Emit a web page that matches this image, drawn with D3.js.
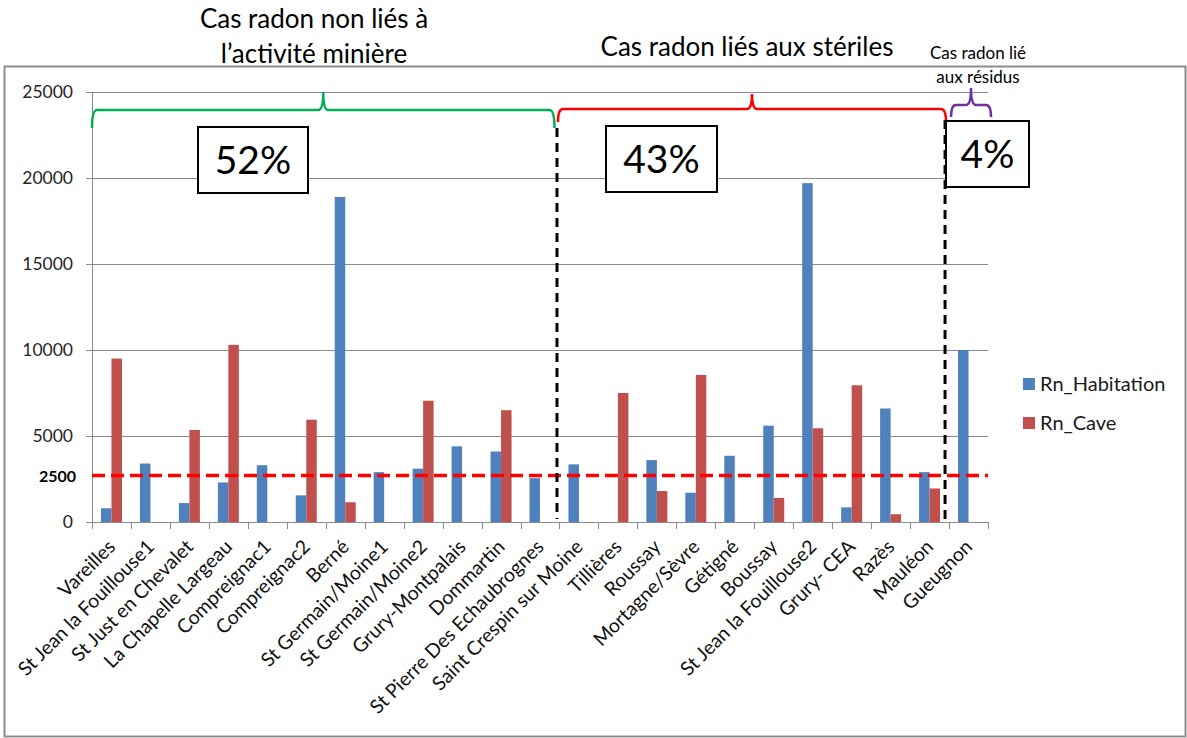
<!DOCTYPE html>
<html>
<head>
<meta charset="utf-8">
<script src="https://cdn.jsdelivr.net/npm/d3@7"></script>
<style>
  body { margin: 0; background: #fff; }
  svg { display: block; font-family: Lato, 'Open Sans', sans-serif; }
</style>
</head>
<body>
<svg id="chart" width="1187" height="738"></svg>
<script>
// radon measurements per site (Bq/m3)
const sites = [
  'Vareilles', 'St Jean la Fouillouse1', 'St Just en Chevalet', 'La Chapelle Largeau',
  'Compreignac1', 'Compreignac2', 'Berné', 'St Germain/Moine1', 'St Germain/Moine2',
  'Grury-Montpalais', 'Dommartin', 'St Pierre Des Echaubrognes', 'Saint Crespin sur Moine',
  'Tillières', 'Roussay', 'Mortagne/Sèvre', 'Gétigné', 'Boussay', 'St Jean la Fouillouse2',
  'Grury- CEA', 'Razès', 'Mauléon', 'Gueugnon'
];
const habitation = [
  800, 3400, 1100, 2300, 3300, 1550, 18900, 2900, 3100, 4400, 4100, 2550, 3350,
  0, 3600, 1700, 3850, 5600, 19700, 850, 6600, 2900, 10000
];
const cave = [
  9500, 0, 5350, 10300, 0, 5950, 1150, 0, 7050, 0, 6500, 0, 0,
  7500, 1800, 8550, 0, 1400, 5450, 7950, 450, 1950, 0
];
const seriesNames = ['Rn_Habitation', 'Rn_Cave'];
const seriesColors = ['#4f81bd', '#c0504d'];
const yTicks = [0, 5000, 10000, 15000, 20000, 25000];
const thresholdValue = 2700;
const thresholdLabel = '2500';

// groups of sites (first index, last index)
const groupTitles = [
  ['Cas radon non liés à', 'l\u2019activité minière'],
  ['Cas radon liés aux stériles'],
  ['Cas radon lié', 'aux résidus']
];
const groupShares = ['52%', '43%', '4%'];
const groupRanges = [[0, 11], [12, 21], [22, 22]];
const groupColors = ['#00b050', '#ff0000', '#7030a0'];

const svg = d3.select('#chart');
const plot = { left: 92, right: 988, top: 92, bottom: 522 };

// frame
svg.append('rect')
  .attr('x', 4.5).attr('y', 66.5)
  .attr('width', 1181).attr('height', 670)
  .attr('fill', 'none')
  .attr('stroke', '#8c8c8c')
  .attr('stroke-width', 2);

const x = d3.scaleBand()
  .domain(d3.range(sites.length))
  .range([plot.left, plot.right]);

const y = d3.scaleLinear()
  .domain([0, 25000])
  .range([plot.bottom, plot.top]);

const barW = 10.5;

// grid
svg.append('g')
  .selectAll('line')
  .data(yTicks)
  .join('line')
  .attr('x1', plot.left - 6)
  .attr('x2', plot.right)
  .attr('y1', (d) => Math.round(y(d)) + 0.5)
  .attr('y2', (d) => Math.round(y(d)) + 0.5)
  .attr('stroke', '#8a8a8a')
  .attr('stroke-width', 1);

// y axis line
svg.append('line')
  .attr('x1', plot.left + 0.5).attr('x2', plot.left + 0.5)
  .attr('y1', plot.top).attr('y2', plot.bottom)
  .attr('stroke', '#8a8a8a');

// y labels
svg.append('g')
  .selectAll('text')
  .data(yTicks)
  .join('text')
  .attr('x', plot.left - 19)
  .attr('y', (d) => y(d))
  .attr('dy', '0.35em')
  .attr('text-anchor', 'end')
  .attr('font-size', 17.5)
  .attr('fill', '#262626')
  .text((d) => d);

svg.append('text')
  .attr('x', plot.left - 16)
  .attr('y', y(thresholdValue) + 1)
  .attr('dy', '0.35em')
  .attr('text-anchor', 'end')
  .attr('font-size', 16)
  .attr('font-weight', 'bold')
  .attr('fill', '#000')
  .text(thresholdLabel);

// x ticks at category boundaries
svg.append('g')
  .selectAll('line')
  .data(d3.range(sites.length + 1))
  .join('line')
  .attr('x1', (i) => Math.round(plot.left + i * x.step()) + 0.5)
  .attr('x2', (i) => Math.round(plot.left + i * x.step()) + 0.5)
  .attr('y1', plot.bottom)
  .attr('y2', plot.bottom + 7)
  .attr('stroke', '#8a8a8a');

// bars
const series = [habitation, cave];
series.forEach((values, s) => {
  svg.append('g')
    .selectAll('rect')
    .data(values.map((v, i) => ({ v, i })).filter((d) => d.v > 0))
    .join('rect')
    .attr('x', (d) => x(d.i) + x.bandwidth() / 2 - barW + s * barW)
    .attr('y', (d) => y(d.v))
    .attr('width', barW)
    .attr('height', (d) => plot.bottom - y(d.v))
    .attr('fill', seriesColors[s]);
});

// x labels
svg.append('g')
  .selectAll('text')
  .data(sites)
  .join('text')
  .attr('text-anchor', 'end')
  .attr('font-size', 19.5)
  .attr('fill', '#111')
  .attr('transform', (d, i) => `translate(${x(i) + x.bandwidth() / 2 + 5},${plot.bottom + 26}) rotate(-45)`)
  .text((d) => d);

// threshold line
svg.append('line')
  .attr('x1', plot.left)
  .attr('x2', plot.right)
  .attr('y1', y(thresholdValue))
  .attr('y2', y(thresholdValue))
  .attr('stroke', '#ff0000')
  .attr('stroke-width', 3.5)
  .attr('stroke-dasharray', '13,6');

// group separators
const boundary = (i) => plot.left + i * x.step();
const separators = [
  { at: groupRanges[1][0], dx: -2.5, top: 128 },
  { at: groupRanges[2][0], dx: -4, top: 120 }
];
svg.append('g')
  .selectAll('line')
  .data(separators)
  .join('line')
  .attr('x1', (d) => boundary(d.at) + d.dx)
  .attr('x2', (d) => boundary(d.at) + d.dx)
  .attr('y1', (d) => d.top)
  .attr('y2', plot.bottom - 3)
  .attr('stroke', '#000')
  .attr('stroke-width', 3)
  .attr('stroke-dasharray', '9,6');

// braces
const braceLayout = [
  { x0: boundary(0), x1: boundary(12) - 5, top: 92, mid: 110, end: 128 },
  { x0: boundary(12) - 1.5, x1: boundary(22) - 3, top: 94, mid: 109, end: 122 },
  { x0: boundary(22) + 2, x1: boundary(23) + 3, top: 88, mid: 105, end: 117 }
];
const bracePath = ({ x0, x1, top, mid, end }) => {
  const m = (x0 + x1) / 2;
  const r = 5;
  return `M${x0},${end} Q${x0},${mid} ${x0 + r},${mid} L${m - r},${mid} Q${m},${mid} ${m},${top}`
    + ` Q${m},${mid} ${m + r},${mid} L${x1 - r},${mid} Q${x1},${mid} ${x1},${end}`;
};
svg.append('g')
  .selectAll('path')
  .data(braceLayout)
  .join('path')
  .attr('d', bracePath)
  .attr('fill', 'none')
  .attr('stroke', (d, i) => groupColors[i])
  .attr('stroke-width', 2.5);

// share boxes
const boxLayout = [
  { x: 198, y: 127, w: 110, h: 66 },
  { x: 606, y: 126, w: 111, h: 66 },
  { x: 946, y: 121, w: 83, h: 66 }
];
const boxes = svg.append('g')
  .selectAll('g')
  .data(boxLayout)
  .join('g');
boxes.append('rect')
  .attr('x', (d) => d.x)
  .attr('y', (d) => d.y)
  .attr('width', (d) => d.w)
  .attr('height', (d) => d.h)
  .attr('fill', '#fff')
  .attr('stroke', '#000')
  .attr('stroke-width', 2);
boxes.append('text')
  .attr('x', (d) => d.x + d.w / 2)
  .attr('y', (d) => d.y + d.h / 2 + 14)
  .attr('text-anchor', 'middle')
  .attr('font-size', 39)
  .attr('fill', '#000')
  .text((d, i) => groupShares[i]);

// group titles
const titleLayout = [
  { x: 314, y: 28, size: 26, lead: 35 },
  { x: 747, y: 56, size: 26, lead: 0 },
  { x: 978, y: 59, size: 17, lead: 24 }
];
titleLayout.forEach((t, i) => {
  svg.append('text')
    .attr('text-anchor', 'middle')
    .attr('font-size', t.size)
    .attr('fill', '#000')
    .selectAll('tspan')
    .data(groupTitles[i])
    .join('tspan')
    .attr('x', t.x)
    .attr('y', (d, k) => t.y + k * t.lead)
    .text((d) => d);
});

// legend
const legend = svg.append('g')
  .selectAll('g')
  .data(seriesNames)
  .join('g')
  .attr('transform', (d, i) => `translate(1023,${378 + i * 39})`);
legend.append('rect')
  .attr('width', 12).attr('height', 12)
  .attr('fill', (d, i) => seriesColors[i]);
legend.append('text')
  .attr('x', 17)
  .attr('y', 6)
  .attr('dy', '0.35em')
  .attr('font-size', 20)
  .attr('fill', '#1a1a1a')
  .text((d) => d);
</script>
</body>
</html>
